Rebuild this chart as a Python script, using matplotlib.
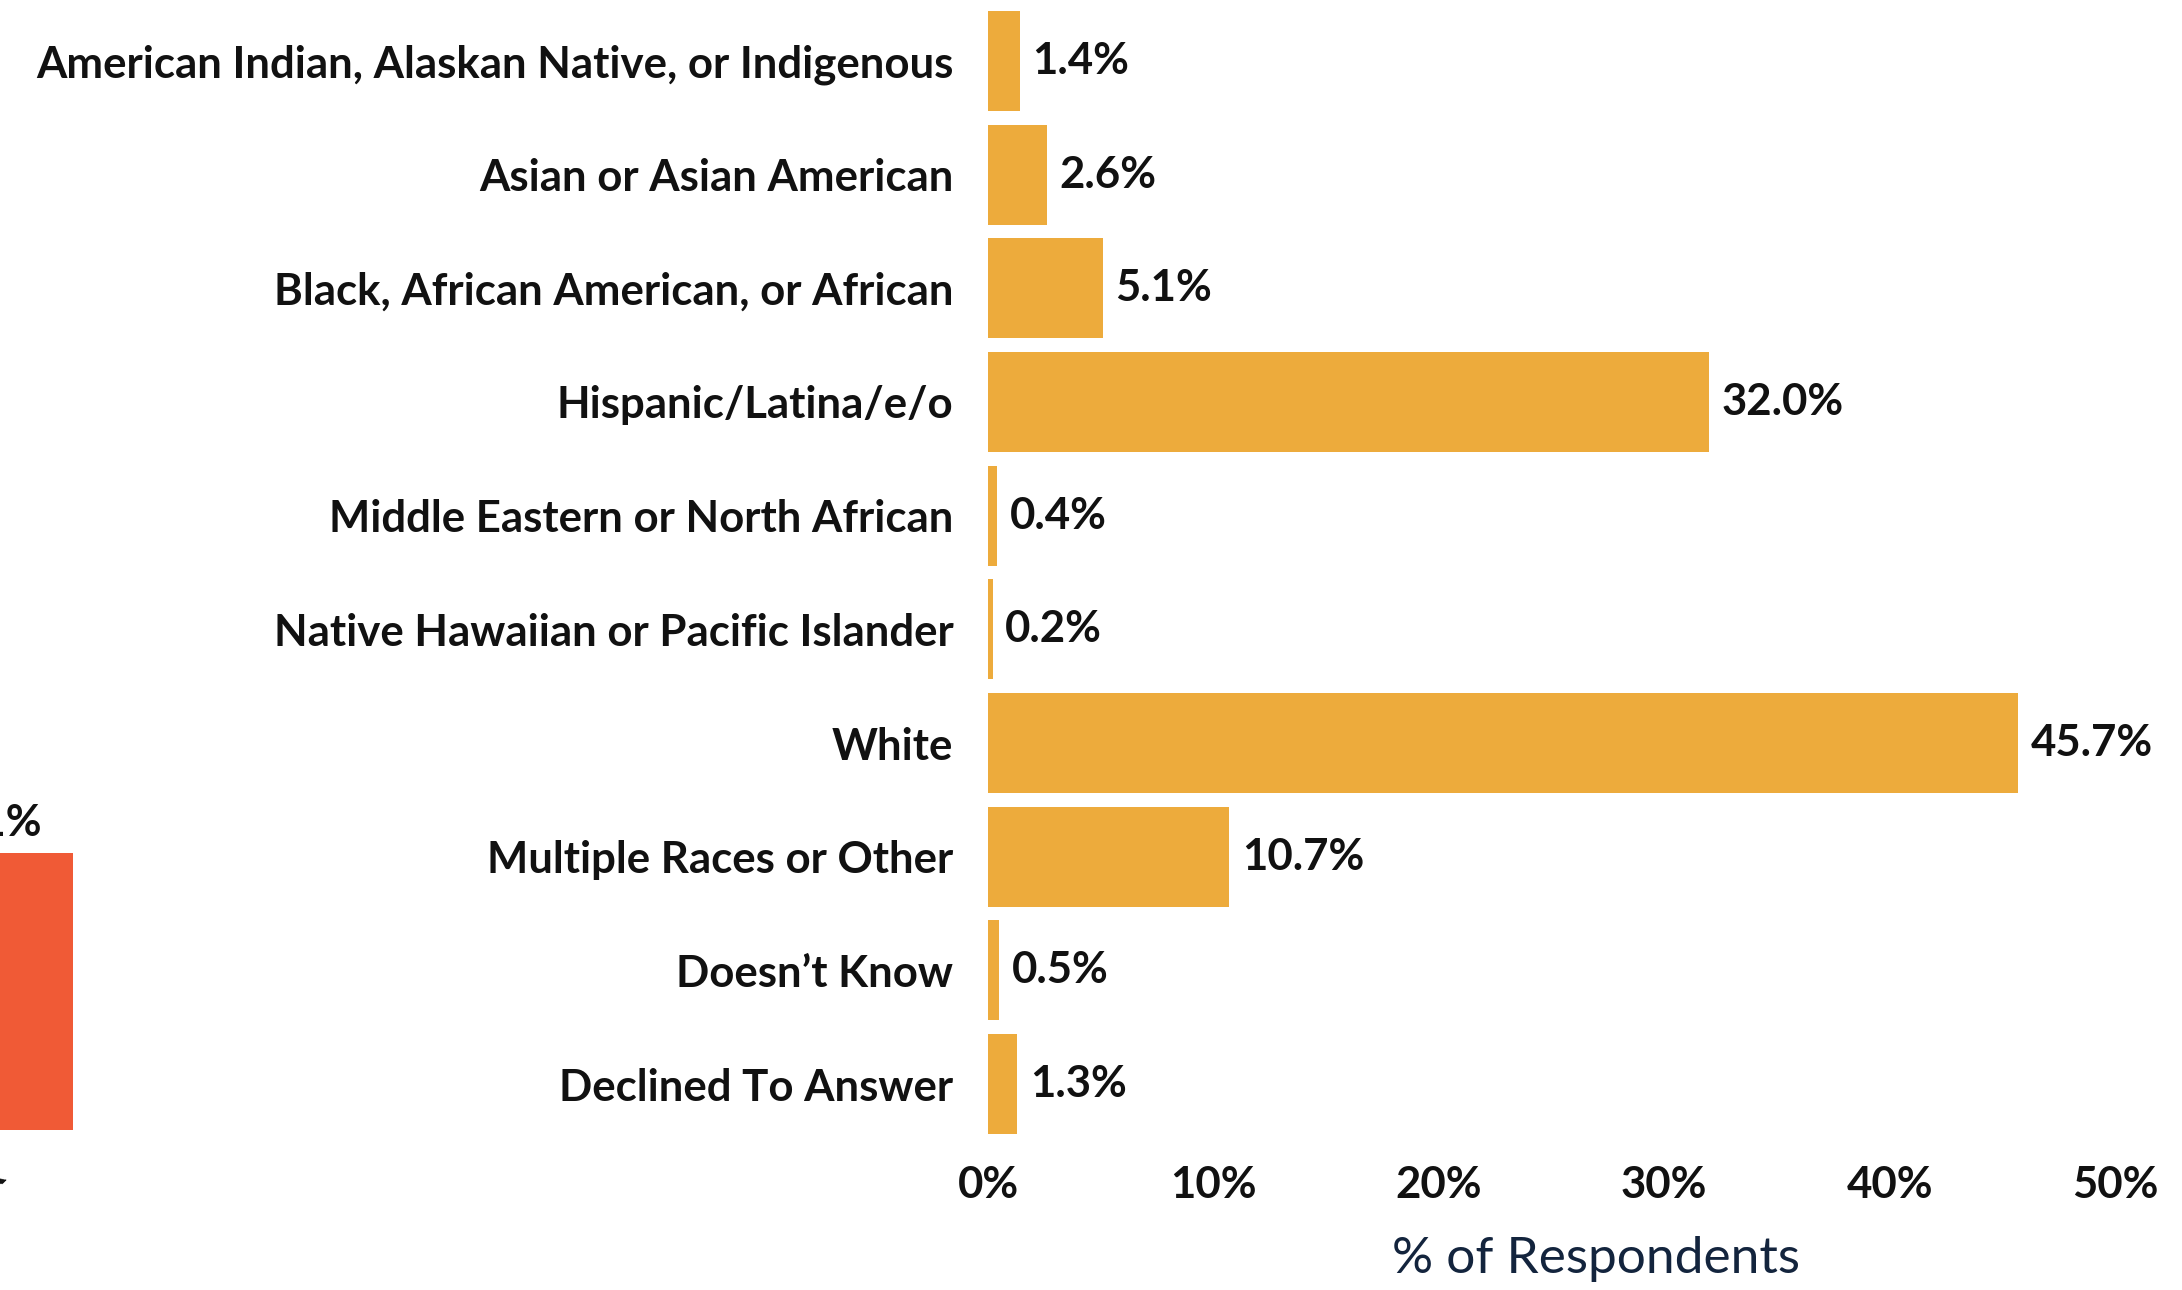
import matplotlib
matplotlib.use("Agg")
import matplotlib.pyplot as plt

# race / ethnicity of respondents
categories = [
    "American Indian, Alaskan Native, or Indigenous",
    "Asian or Asian American",
    "Black, African American, or African",
    "Hispanic/Latina/e/o",
    "Middle Eastern or North African",
    "Native Hawaiian or Pacific Islander",
    "White",
    "Multiple Races or Other",
    "Doesn\u2019t Know",
    "Declined To Answer",
]
values = [1.4, 2.6, 5.1, 32.0, 0.4, 0.2, 45.7, 10.7, 0.5, 1.3]
xticks = [0, 10, 20, 30, 40, 50]

# cut-off panel at the left edge
left_value = 41
left_category = "Black"

plt.rcParams['font.family'] = ['Lato', 'DejaVu Sans']

W, H = 2182, 1290
fig = plt.figure(figsize=(W / 100, H / 100), dpi=100)

# main chart
ax = fig.add_axes([988 / W, 1 - 1141 / H, 1127 / W, 1137 / H])
ypos = list(range(len(categories)))
ax.barh(ypos, values, height=0.88, color="#EDAB3C")
for y, v in zip(ypos, values):
    ax.annotate(f"{v:.1f}%", (v, y), xytext=(9, 0), textcoords="offset points",
                va="center", ha="left", fontsize=31.5, fontweight="bold", color="#111111")
ax.set_xlim(0, 50)
ax.set_ylim(len(categories) - 0.5, -0.5)
ax.set_yticks(ypos)
ax.set_yticklabels(categories, fontsize=31.5, fontweight="bold", color="#111111")
ax.set_xticks(xticks)
ax.set_xticklabels([f"{t}%" for t in xticks], fontsize=31.5, fontweight="bold", color="#111111")
ax.tick_params(axis="y", length=0, pad=25)
ax.tick_params(axis="x", length=0, pad=17)
for s in ax.spines.values():
    s.set_visible(False)

fig.text(1596 / W, 1 - 1259 / H, "% of Respondents", ha="center", va="center",
         fontsize=37, color="#13243D")

# left partial chart (clipped by the image edge)
ax2 = fig.add_axes([0, 1 - 1141 / H, 80 / W, 1137 / H])
ax2.bar([0], [left_value], width=2, color="#F05A36")
ax2.text(0.15, left_value + 1.5, f"{left_value}%", ha="right", va="bottom",
         fontsize=31.5, fontweight="bold", color="#111111")
ax2.set_xlim(-1, 1.19)
ax2.set_ylim(-1.63, 166.7)
ax2.axis("off")
fig.text(12 / W, 1 - 1205 / H, left_category, ha="right", va="center", rotation=45,
         fontsize=31.5, fontweight="bold", color="#111111")

fig.savefig("out.png", dpi=100)
